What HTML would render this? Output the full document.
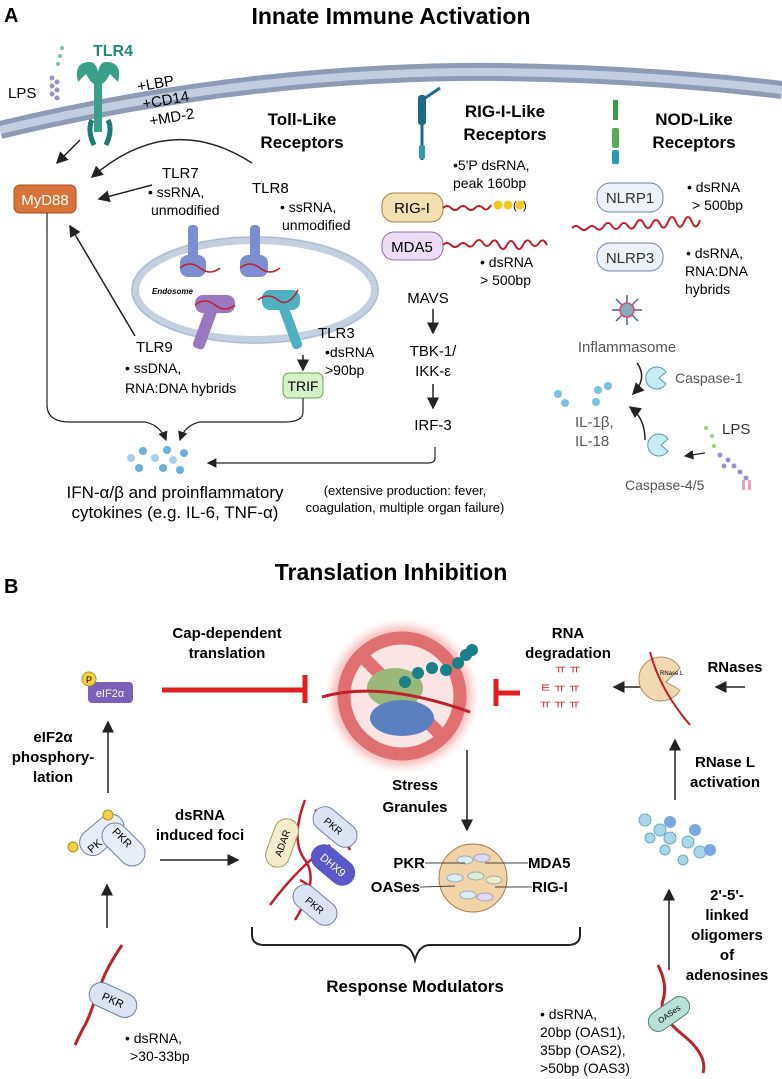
<!DOCTYPE html>
<html><head><meta charset="utf-8"><style>
body{margin:0;background:#fff;}
svg{display:block;font-family:"Liberation Sans",sans-serif;}
.b{font-weight:bold}
</style></head><body>
<svg width="782" height="1079" viewBox="0 0 782 1079">
<defs>
<marker id="ar" markerWidth="8" markerHeight="8" refX="7" refY="4" orient="auto"><path d="M0,0 L8,4 L0,8 z" fill="#222"/></marker>
<radialGradient id="glow"><stop offset="0.7" stop-color="#f26a6a" stop-opacity="0.7"/><stop offset="0.85" stop-color="#f7a0a0" stop-opacity="0.5"/><stop offset="1" stop-color="#fff" stop-opacity="0"/></radialGradient>
</defs>
<!-- Section A -->
<text x="4" y="22" font-size="20" class="b">A</text>
<text x="391" y="24" font-size="23" class="b" text-anchor="middle">Innate Immune Activation</text>
<path d="M0,130 Q250,70 500,72 Q650,74 782,90" stroke="#8e9bb5" stroke-width="18" fill="none"/>
<path d="M0,130 Q250,70 500,72 Q650,74 782,90" stroke="#c3cde0" stroke-width="8" fill="none"/>
<!-- TLR4 -->
<g fill="#3aa08a">
<path d="M78,82 q-5,-20 12,-20 q6,0 8,10 q2,-10 8,-10 q17,0 12,20 l-8,-8 q-4,8 -8,10 l0,48 l-8,0 l0,-48 q-4,-2 -8,-10z"/>
</g>
<path d="M92,120 q-5,10 2,25 M108,120 q5,10 -2,25" stroke="#1c7a7a" stroke-width="5" fill="none"/>
<text x="93" y="56" font-size="16" class="b" fill="#1f8a7a">TLR4</text>
<text x="8" y="98" font-size="15">LPS</text>
<g fill="#7cc0a0"><circle cx="62" cy="48" r="2"/><circle cx="60" cy="56" r="2"/><circle cx="58" cy="64" r="2"/></g>
<g fill="#9a90d0"><circle cx="52" cy="78" r="2.5"/><circle cx="57" cy="82" r="2.5"/><circle cx="52" cy="86" r="2.5"/><circle cx="57" cy="90" r="2.5"/><circle cx="52" cy="94" r="2.5"/><circle cx="57" cy="98" r="2.5"/></g>
<g transform="rotate(-10 160 100)"><text x="140" y="88" font-size="15">+LBP</text><text x="142" y="106" font-size="15">+CD14</text><text x="146" y="124" font-size="15">+MD-2</text></g>
<text x="302" y="125" font-size="17" class="b" text-anchor="middle">Toll-Like</text>
<text x="302" y="148" font-size="17" class="b" text-anchor="middle">Receptors</text>
<text x="505" y="117" font-size="17" class="b" text-anchor="middle">RIG-I-Like</text>
<text x="505" y="140" font-size="17" class="b" text-anchor="middle">Receptors</text>
<text x="694" y="125" font-size="17" class="b" text-anchor="middle">NOD-Like</text>
<text x="694" y="148" font-size="17" class="b" text-anchor="middle">Receptors</text>
<path d="M422,160 L422,100 L440,88" stroke="#1c6a88" stroke-width="3" fill="none"/>
<rect x="418" y="95" width="8" height="30" rx="3" fill="#1c6a88"/><rect x="419" y="145" width="6" height="14" rx="2" fill="#2a9ab0"/>
<rect x="613" y="100" width="5" height="20" fill="#3a9a4a"/><rect x="612" y="128" width="7" height="20" rx="2" fill="#5aaa5a"/><rect x="612" y="150" width="7" height="14" rx="2" fill="#2a9ab0"/>
<!-- MyD88 -->
<rect x="14" y="185" width="62" height="28" rx="6" fill="#d8743a" stroke="#a84e1a"/>
<text x="45" y="205" font-size="15" fill="#fff" text-anchor="middle">MyD88</text>
<path d="M80,140 L57,163" stroke="#222" stroke-width="1.5" marker-end="url(#ar)"/>
<path d="M252,163 Q170,110 92,177" stroke="#222" stroke-width="1.5" fill="none" marker-end="url(#ar)"/>
<path d="M152,185 L99,199" stroke="#222" stroke-width="1.5" marker-end="url(#ar)"/>
<path d="M135,336 L70,226" stroke="#222" stroke-width="1.5" marker-end="url(#ar)"/>
<text x="162" y="178" font-size="15">TLR7</text>
<text x="148" y="197" font-size="14">• ssRNA,</text>
<text x="151" y="215" font-size="14">unmodified</text>
<text x="252" y="193" font-size="15">TLR8</text>
<text x="280" y="212" font-size="14">• ssRNA,</text>
<text x="282" y="230" font-size="14">unmodified</text>
<!-- endosome -->
<ellipse cx="255" cy="290" rx="120" ry="50" fill="#fff" stroke="#c4d0e0" stroke-width="8"/>
<ellipse cx="255" cy="290" rx="123" ry="53" fill="none" stroke="#a8b8cc" stroke-width="1"/>
<text x="152" y="294" font-size="8" font-style="italic" class="b">Endosome</text>
<g fill="#7d8ed0"><rect x="188" y="225" width="10" height="35" rx="4"/><rect x="180" y="255" width="26" height="22" rx="8"/><rect x="250" y="225" width="10" height="35" rx="4"/><rect x="240" y="255" width="28" height="22" rx="8"/></g>
<g fill="#9a78c0"><rect x="200" y="300" width="12" height="50" rx="4" transform="rotate(20 206 325)"/><rect x="195" y="295" width="40" height="18" rx="8"/></g>
<g fill="#4eb0c0"><rect x="285" y="300" width="10" height="50" rx="4" transform="rotate(-20 290 325)"/><rect x="262" y="290" width="38" height="20" rx="8"/></g>
<path d="M180,268 q10,-8 20,0 t20,0 M240,268 q10,-8 20,0 t20,0 M195,305 q10,-8 20,0 t20,0 M258,300 q10,-8 20,0 t20,-10" stroke="#c0202a" stroke-width="1.5" fill="none"/>
<text x="136" y="352" font-size="15">TLR9</text>
<text x="125" y="373" font-size="14">• ssDNA,</text>
<text x="125" y="393" font-size="14">RNA:DNA hybrids</text>
<text x="318" y="338" font-size="15">TLR3</text>
<text x="325" y="357" font-size="14">•dsRNA</text>
<text x="325" y="375" font-size="14">&gt;90bp</text>
<path d="M303,355 L303,370" stroke="#222" stroke-width="1.5" marker-end="url(#ar)"/>
<rect x="283" y="373" width="40" height="25" rx="6" fill="#d8f0c8" stroke="#6aa050"/>
<text x="303" y="391" font-size="14" text-anchor="middle">TRIF</text>
<path d="M47,213 L47,405 Q47,422 70,422 L145,422 Q160,425 166,440" stroke="#222" stroke-width="1.2" fill="none" marker-end="url(#ar)"/>
<path d="M303,398 L303,412 Q303,422 285,422 L200,422 Q185,425 180,440" stroke="#222" stroke-width="1.2" fill="none" marker-end="url(#ar)"/>
<path d="M435,447 L435,458 Q435,463 428,463 L208,463" stroke="#222" stroke-width="1.2" fill="none" marker-end="url(#ar)"/>
<g fill="#6ab0d8"><circle cx="131" cy="458" r="4" fill="#a8d0e8"/><circle cx="143" cy="451" r="4"/><circle cx="139" cy="468" r="4"/><circle cx="155" cy="458" r="4" fill="#a8d0e8"/><circle cx="167" cy="450" r="4"/><circle cx="163" cy="468" r="4"/><circle cx="173" cy="460" r="4" fill="#a8d0e8"/><circle cx="184" cy="453" r="4"/><circle cx="180" cy="470" r="4"/></g>
<text x="175" y="498" font-size="17" text-anchor="middle">IFN-α/β and proinflammatory</text>
<text x="175" y="518" font-size="17" text-anchor="middle">cytokines (e.g. IL-6, TNF-α)</text>
<text x="405" y="495" font-size="13" text-anchor="middle">(extensive production: fever,</text>
<text x="405" y="512" font-size="13" text-anchor="middle">coagulation, multiple organ failure)</text>
<!-- RIG -->
<text x="453" y="170" font-size="14">•5'P dsRNA,</text>
<text x="453" y="188" font-size="14">peak 160bp</text>
<rect x="382" y="193" width="61" height="29" rx="12" fill="#f3e0b0" stroke="#a88040"/>
<text x="412" y="213" font-size="15" text-anchor="middle">RIG-I</text>
<path d="M443,208 q4,-4 8,0 t8,0 t8,0 t8,0 t8,0 t8,-3" stroke="#c0202a" stroke-width="2" fill="none"/>
<g fill="#f0c820"><circle cx="498" cy="205" r="4.5"/><circle cx="508" cy="205" r="4.5"/><circle cx="520" cy="205" r="4.5"/></g>
<text x="513" y="209" font-size="11">(</text><text x="523" y="209" font-size="11">)</text>
<rect x="382" y="232" width="61" height="28" rx="12" fill="#ecdcf4" stroke="#9070a8"/>
<text x="412" y="252" font-size="15" text-anchor="middle">MDA5</text>
<path d="M443,245 q4,-4 8,0 t8,0 t8,0 t8,-2 t8,0 t8,0 t8,2 t8,0 t8,0 t8,0 t8,-2 t8,0 t8,2" stroke="#c0202a" stroke-width="2" fill="none"/>
<text x="480" y="267" font-size="14">• dsRNA</text>
<text x="480" y="285" font-size="14">&gt; 500bp</text>
<text x="428" y="303" font-size="15" text-anchor="middle">MAVS</text>
<path d="M433,309 L433,333" stroke="#222" stroke-width="1.5" marker-end="url(#ar)"/>
<text x="433" y="356" font-size="15" text-anchor="middle">TBK-1/</text>
<text x="433" y="376" font-size="15" text-anchor="middle">IKK-ε</text>
<path d="M433,384 L433,408" stroke="#222" stroke-width="1.5" marker-end="url(#ar)"/>
<text x="433" y="430" font-size="15" text-anchor="middle">IRF-3</text>
<!-- NLR -->
<rect x="597" y="183" width="66" height="29" rx="13" fill="#edf1f8" stroke="#7080a8"/>
<text x="630" y="203" font-size="15" text-anchor="middle" fill="#333">NLRP1</text>
<text x="687" y="192" font-size="14">• dsRNA</text>
<text x="692" y="210" font-size="14">&gt; 500bp</text>
<path d="M572,228 q4,-4 8,0 t8,0 t8,0 t8,-2 t8,0 t8,0 t8,0 t8,-2 t8,0 t8,0 t8,0 t8,-2 t8,0 t8,0 t8,0 t8,-2" stroke="#c0202a" stroke-width="2" fill="none"/>
<rect x="597" y="243" width="66" height="28" rx="13" fill="#edf1f8" stroke="#7080a8"/>
<text x="630" y="263" font-size="15" text-anchor="middle" fill="#333">NLRP3</text>
<text x="686" y="258" font-size="14">• dsRNA,</text>
<text x="685" y="276" font-size="14">RNA:DNA</text>
<text x="685" y="294" font-size="14">hybrids</text>
<g stroke="#4a60a0" stroke-width="1.5"><line x1="612" y1="310" x2="642" y2="310"/><line x1="627" y1="295" x2="627" y2="325"/><line x1="616" y1="299" x2="638" y2="321"/><line x1="638" y1="299" x2="616" y2="321"/></g>
<circle cx="627" cy="310" r="7" fill="#8ab" stroke="#d05070" stroke-width="1.5"/>
<text x="627" y="352" font-size="15" fill="#555" text-anchor="middle">Inflammasome</text>
<path d="M637,363 Q648,378 633,394" stroke="#222" stroke-width="1.5" fill="none" marker-end="url(#ar)"/>
<path d="M666,372 a11,11 0 1 0 0,12 l-7,-6z" fill="#c8ecf4" stroke="#5a98a8"/>
<text x="675" y="383" font-size="14" fill="#555">Caspase-1</text>
<g fill="#7cc0e0"><circle cx="558" cy="394" r="4"/><circle cx="565" cy="403" r="4"/><circle cx="598" cy="390" r="4"/><circle cx="596" cy="402" r="4"/><circle cx="608" cy="386" r="4"/></g>
<text x="575" y="427" font-size="15" fill="#555">IL-1β,</text>
<text x="575" y="446" font-size="15" fill="#555">IL-18</text>
<path d="M645,440 Q645,418 630,407" stroke="#222" stroke-width="1.5" fill="none" marker-end="url(#ar)"/>
<path d="M668,439 a11,11 0 1 0 0,12 l-7,-6z" fill="#c8ecf4" stroke="#5a98a8"/>
<path d="M705,453 L685,456" stroke="#222" stroke-width="1.2" marker-end="url(#ar)"/>
<text x="722" y="434" font-size="15" fill="#333">LPS</text>
<g fill="#9ad080"><circle cx="706" cy="428" r="2"/><circle cx="712" cy="436" r="2"/><circle cx="714" cy="446" r="2"/></g>
<g fill="#9a90d0"><circle cx="720" cy="455" r="2.5"/><circle cx="728" cy="460" r="2.5"/><circle cx="724" cy="466" r="2.5"/><circle cx="734" cy="466" r="2.5"/><circle cx="740" cy="472" r="2.5"/><circle cx="746" cy="478" r="2.5"/></g>
<g fill="#f0a0b0"><rect x="742" y="480" width="3" height="10"/><rect x="748" y="480" width="3" height="10"/></g>
<text x="625" y="490" font-size="14" fill="#555">Caspase-4/5</text>
<!-- Section B -->
<text x="4" y="593" font-size="20" class="b">B</text>
<text x="391" y="580" font-size="23" class="b" text-anchor="middle">Translation Inhibition</text>
<circle cx="402" cy="696" r="80" fill="url(#glow)"/>
<circle cx="402" cy="696" r="58" fill="#fbe4e4" stroke="#e07070" stroke-width="13"/>
<path d="M362,656 L442,736" stroke="#e07070" stroke-width="13"/>
<ellipse cx="395" cy="688" rx="28" ry="20" fill="#9ab87a"/>
<ellipse cx="402" cy="718" rx="32" ry="18" fill="#5a80c0"/>
<path d="M322,697 Q380,680 470,712" stroke="#c0202a" stroke-width="3" fill="none"/>
<g fill="#1a8088"><circle cx="405" cy="682" r="6"/><circle cx="418" cy="673" r="6"/><circle cx="432" cy="668" r="6"/><circle cx="446" cy="670" r="6"/><circle cx="458" cy="663" r="6"/><circle cx="466" cy="655" r="6"/><circle cx="472" cy="650" r="6"/></g>
<text x="227" y="638" font-size="15" class="b" text-anchor="middle">Cap-dependent</text>
<text x="227" y="658" font-size="15" class="b" text-anchor="middle">translation</text>
<line x1="162" y1="690" x2="305" y2="690" stroke="#e02020" stroke-width="5"/>
<line x1="305" y1="675" x2="305" y2="703" stroke="#e02020" stroke-width="5"/>
<line x1="520" y1="693" x2="496" y2="693" stroke="#e02020" stroke-width="5"/>
<line x1="496" y1="679" x2="496" y2="706" stroke="#e02020" stroke-width="5"/>
<text x="568" y="638" font-size="15" class="b" text-anchor="middle">RNA</text>
<text x="568" y="658" font-size="15" class="b" text-anchor="middle">degradation</text>
<text x="555" y="673" font-size="12" fill="#c02020">ㅠ ㅠ</text>
<text x="540" y="692" font-size="12" fill="#c02020">ㅌ ㅠ ㅠ</text>
<text x="540" y="708" font-size="12" fill="#c02020">ㅠ ㅠ ㅠ</text>
<path d="M642,687 L614,687" stroke="#222" stroke-width="1.5" marker-end="url(#ar)"/>
<path d="M680,668 a22,22 0 1 0 0,22 l-14,-8z" fill="#f0d8b0" stroke="#b09060"/>
<path d="M650,652 Q660,690 690,725" stroke="#c0202a" stroke-width="2" fill="none"/>
<text x="660" y="675" font-size="6">RNase L</text>
<text x="735" y="672" font-size="15" class="b" text-anchor="middle">RNases</text>
<path d="M745,687 L716,687" stroke="#222" stroke-width="1.5" marker-end="url(#ar)"/>
<text x="725" y="767" font-size="15" class="b" text-anchor="middle">RNase L</text>
<text x="725" y="787" font-size="15" class="b" text-anchor="middle">activation</text>
<path d="M675,800 L675,740" stroke="#222" stroke-width="1.5" marker-end="url(#ar)"/>
<g fill="#a8d8e8" stroke="#6aa8c0"><circle cx="645" cy="820" r="6"/><circle cx="660" cy="830" r="6"/><circle cx="670" cy="838" r="6"/><circle cx="688" cy="842" r="6"/><circle cx="700" cy="852" r="6"/><circle cx="650" cy="838" r="5"/><circle cx="665" cy="850" r="5"/><circle cx="683" cy="860" r="5"/></g>
<g fill="#7aa8e0"><circle cx="670" cy="822" r="6"/><circle cx="695" cy="830" r="6"/><circle cx="710" cy="850" r="6"/></g>
<text x="727" y="900" font-size="15" class="b" text-anchor="middle">2'-5'-</text>
<text x="727" y="920" font-size="15" class="b" text-anchor="middle">linked</text>
<text x="727" y="940" font-size="15" class="b" text-anchor="middle">oligomers</text>
<text x="727" y="960" font-size="15" class="b" text-anchor="middle">of</text>
<text x="727" y="980" font-size="15" class="b" text-anchor="middle">adenosines</text>
<path d="M669,970 L669,890" stroke="#222" stroke-width="1.5" marker-end="url(#ar)"/>
<path d="M658,965 q10,20 5,35 t20,35 t20,38" stroke="#c0202a" stroke-width="3" fill="none"/>
<rect x="646" y="1004" width="46" height="20" rx="10" fill="#b8e0d8" stroke="#508070" transform="rotate(-35 669 1014)"/>
<text x="669" y="1017" font-size="8" text-anchor="middle" transform="rotate(-35 669 1014)">OASes</text>
<text x="540" y="1019" font-size="14">• dsRNA,</text>
<text x="540" y="1037" font-size="14">20bp (OAS1),</text>
<text x="540" y="1055" font-size="14">35bp (OAS2),</text>
<text x="540" y="1073" font-size="14">&gt;50bp (OAS3)</text>
<!-- eIF2a -->
<rect x="88" y="682" width="45" height="21" rx="4" fill="#7c5fb8"/>
<text x="110" y="697" font-size="11" fill="#fff" text-anchor="middle">eIF2α</text>
<circle cx="89" cy="679" r="7" fill="#f5d040" stroke="#b09020"/>
<text x="89" y="683" font-size="9" text-anchor="middle">P</text>
<text x="53" y="742" font-size="15" class="b" text-anchor="middle">eIF2α</text>
<text x="53" y="762" font-size="15" class="b" text-anchor="middle">phosphory-</text>
<text x="53" y="782" font-size="15" class="b" text-anchor="middle">lation</text>
<path d="M108,793 L108,722" stroke="#222" stroke-width="1.5" marker-end="url(#ar)"/>
<rect x="78" y="825" width="50" height="26" rx="13" fill="#e8eef7" stroke="#7080a8" transform="rotate(-40 98 838)"/>
<rect x="100" y="828" width="50" height="26" rx="13" fill="#e8eef7" stroke="#7080a8" transform="rotate(45 120 841)"/>
<text x="88" y="852" font-size="11" transform="rotate(-40 92 848)">PK</text>
<text x="110" y="840" font-size="11" transform="rotate(45 120 838)">PKR</text>
<circle cx="108" cy="815" r="5" fill="#f5d040" stroke="#b09020"/>
<circle cx="73" cy="847" r="5" fill="#f5d040" stroke="#b09020"/>
<path d="M107,928 L107,885" stroke="#222" stroke-width="1.5" marker-end="url(#ar)"/>
<text x="200" y="820" font-size="15" class="b" text-anchor="middle">dsRNA</text>
<text x="200" y="840" font-size="15" class="b" text-anchor="middle">induced foci</text>
<path d="M160,860 L238,860" stroke="#222" stroke-width="1.5" marker-end="url(#ar)"/>
<path d="M122,945 q-10,15 -15,25 t-12,30 t-10,25 t-10,20" stroke="#c0202a" stroke-width="3" fill="none"/>
<rect x="88" y="988" width="50" height="24" rx="12" fill="#dce4f2" stroke="#7080a8" transform="rotate(25 113 1000)"/>
<text x="113" y="1004" font-size="11" text-anchor="middle" transform="rotate(25 113 1000)">PKR</text>
<text x="125" y="1043" font-size="14">• dsRNA,</text>
<text x="130" y="1061" font-size="14">&gt;30-33bp</text>
<!-- foci -->
<path d="M305,800 q-15,40 0,60 t-10,60 M270,905 q30,-40 60,-60 M315,810 q25,20 35,40 M300,880 q20,10 30,35" stroke="#c0202a" stroke-width="2.5" fill="none"/>
<rect x="270" y="818" width="24" height="50" rx="12" fill="#f4eccc" stroke="#a09a60" transform="rotate(20 282 843)"/>
<text x="282" y="847" font-size="10" text-anchor="middle" transform="rotate(-70 282 843)">ADAR</text>
<rect x="310" y="815" width="50" height="24" rx="12" fill="#dce4f2" stroke="#7080a8" transform="rotate(40 335 827)"/>
<text x="333" y="831" font-size="10" transform="rotate(40 335 827)" text-anchor="middle">PKR</text>
<rect x="308" y="852" width="50" height="26" rx="13" fill="#5a58c8" transform="rotate(40 333 865)"/>
<text x="333" y="869" font-size="11" fill="#fff" text-anchor="middle" transform="rotate(40 333 865)">DHX9</text>
<rect x="290" y="893" width="50" height="24" rx="12" fill="#dce4f2" stroke="#7080a8" transform="rotate(40 315 905)"/>
<text x="315" y="909" font-size="10" text-anchor="middle" transform="rotate(40 315 905)">PKR</text>
<text x="415" y="790" font-size="15" class="b" text-anchor="middle">Stress</text>
<text x="415" y="812" font-size="15" class="b" text-anchor="middle">Granules</text>
<path d="M467,750 L467,830" stroke="#222" stroke-width="1.5" marker-end="url(#ar)"/>
<circle cx="473" cy="878" r="34" fill="#f0d4a8" stroke="#a87840"/>
<g fill="#d8eef0" stroke="#9ab"><ellipse cx="465" cy="860" rx="8" ry="4"/><ellipse cx="482" cy="858" rx="8" ry="4" fill="#e0d8f0"/><ellipse cx="455" cy="878" rx="8" ry="4"/><ellipse cx="476" cy="876" rx="8" ry="4" fill="#d8f0d0"/><ellipse cx="494" cy="880" rx="8" ry="4" fill="#f0ecc0"/><ellipse cx="468" cy="895" rx="8" ry="4"/><ellipse cx="485" cy="897" rx="8" ry="4" fill="#e0d8f0"/></g>
<text x="425" y="868" font-size="15" class="b" text-anchor="end">PKR</text>
<text x="420" y="892" font-size="15" class="b" text-anchor="end">OASes</text>
<line x1="425" y1="863" x2="465" y2="863" stroke="#444"/>
<line x1="420" y1="887" x2="455" y2="886" stroke="#444"/>
<text x="528" y="868" font-size="15" class="b">MDA5</text>
<text x="532" y="892" font-size="15" class="b">RIG-I</text>
<line x1="485" y1="863" x2="528" y2="863" stroke="#444"/>
<line x1="495" y1="887" x2="532" y2="887" stroke="#444"/>
<path d="M252,927 L252,935 Q252,945 265,945 L400,945 Q411,945 415,960 Q419,945 430,945 L567,945 Q580,945 580,935 L580,927" stroke="#222" stroke-width="2" fill="none"/>
<text x="415" y="992" font-size="17" class="b" text-anchor="middle">Response Modulators</text>
</svg>
</body></html>
